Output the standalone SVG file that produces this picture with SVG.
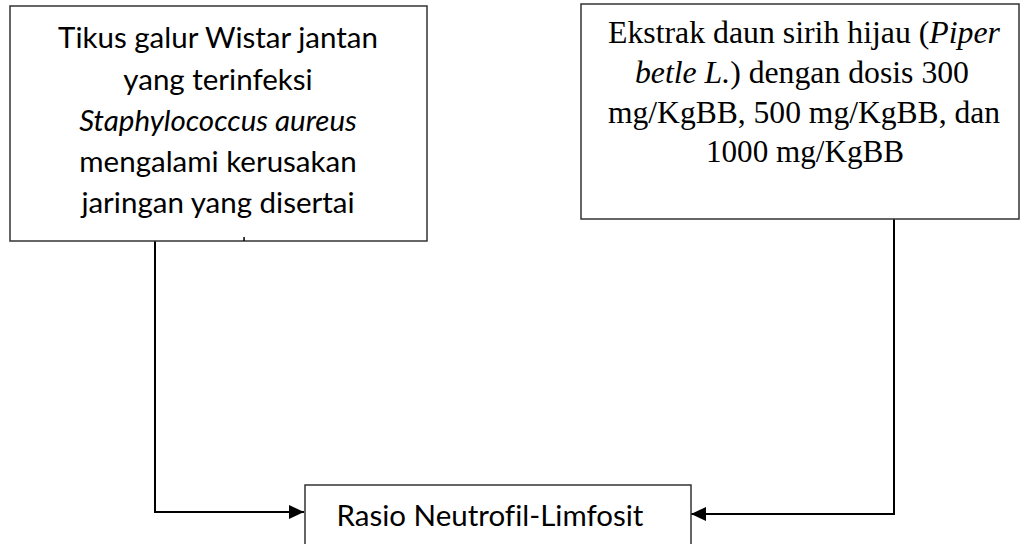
<svg xmlns="http://www.w3.org/2000/svg" width="1020" height="544" viewBox="0 0 1020 544">
<style>
.box{fill:#fff;stroke:#333;stroke-width:1.5}
.sans{font-family:Lato,"Open Sans","Liberation Sans",sans-serif;font-size:29.5px;fill:#000;text-anchor:middle;font-variant-ligatures:none}
.serif{font-family:"Liberation Serif","Times New Roman",serif;font-size:31px;fill:#000;text-anchor:middle}
.conn{fill:none;stroke:#000;stroke-width:2}
</style>
<defs>
<marker id="arr" markerUnits="userSpaceOnUse" markerWidth="15" markerHeight="14" refX="15" refY="7" orient="auto">
<path d="M0,0 L15,7 L0,14 z" fill="#000"/>
</marker>
</defs>
<g id="connectors">
<path class="conn" d="M155,241 V512 H304" marker-end="url(#arr)"/>
<path class="conn" d="M894,219 V514 H691" marker-end="url(#arr)"/>
</g>
<g id="node-tikus">
<rect class="box" x="10" y="6" width="417" height="235"/>
<text class="sans" x="218" y="48">Tikus galur Wistar jantan</text>
<text class="sans" x="218" y="90">yang terinfeksi</text>
<text class="sans" x="218" y="131" font-style="italic">Staphylococcus aureus</text>
<text class="sans" x="218" y="172">mengalami kerusakan</text>
<text class="sans" x="218" y="213">jaringan yang disertai</text>
<rect x="243.3" y="237" width="1.5" height="4" fill="#000"/>
</g>
<g id="node-ekstrak">
<rect class="box" x="581" y="4" width="438" height="215"/>
<text class="serif" x="804" y="43" textLength="392" lengthAdjust="spacingAndGlyphs">Ekstrak daun sirih hijau (<tspan font-style="italic">Piper</tspan></text>
<text class="serif" x="802" y="83" textLength="334" lengthAdjust="spacingAndGlyphs"><tspan font-style="italic">betle L.</tspan>) dengan dosis 300</text>
<text class="serif" x="804" y="123" textLength="392" lengthAdjust="spacingAndGlyphs">mg/KgBB, 500 mg/KgBB, dan</text>
<text class="serif" x="805" y="162" textLength="198" lengthAdjust="spacingAndGlyphs">1000 mg/KgBB</text>
</g>
<g id="node-rasio">
<rect class="box" x="305" y="485" width="386" height="70"/>
<text class="sans" x="490" y="526">Rasio Neutrofil-Limfosit</text>
</g>
</svg>
